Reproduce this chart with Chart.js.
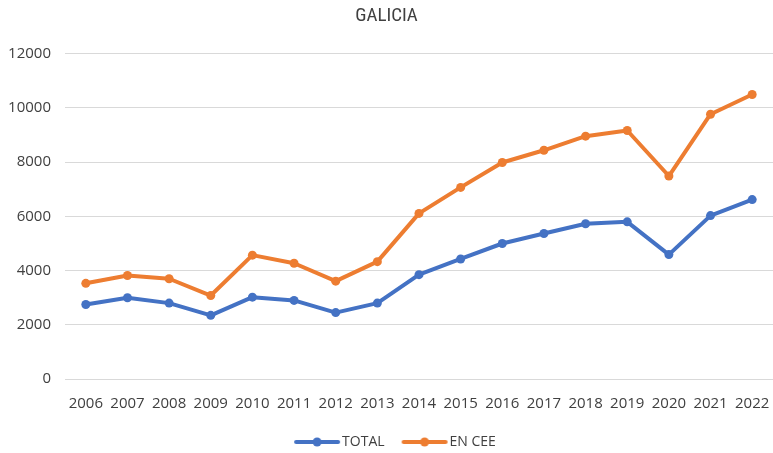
<!DOCTYPE html>
<html>
<head>
<meta charset="utf-8">
<script src="https://cdn.jsdelivr.net/npm/chart.js@4.4.0/dist/chart.umd.min.js"></script>
<style>
  html, body { margin: 0; padding: 0; background: #fff; }
  #wrap { width: 773px; height: 453px; }
</style>
</head>
<body>
<div id="wrap"><canvas id="chart"></canvas></div>
<script>
const years = ["2006", "2007", "2008", "2009", "2010", "2011", "2012", "2013", "2014",
  "2015", "2016", "2017", "2018", "2019", "2020", "2021", "2022"];
const total = [2750, 3000, 2800, 2350, 3020, 2900, 2450, 2800, 3850,
  4430, 5000, 5370, 5730, 5800, 4590, 6030, 6620];
const enCee = [3530, 3820, 3700, 3080, 4570, 4270, 3610, 4330, 6110,
  7070, 7990, 8440, 8960, 9170, 7490, 9770, 10500];
const yTicks = [0, 2000, 4000, 6000, 8000, 10000, 12000];

const blue = "#4472C4";
const orange = "#ED7D31";
const textColor = "#404040";

// legend swatch: blank margin on the left, then a short line with a dot
const BOX_W = 58;
const LEG_FONT = 14;
function swatch(color) {
  const c = document.createElement("canvas");
  c.width = BOX_W + LEG_FONT; c.height = 12;
  const g = c.getContext("2d");
  const x1 = c.width - 46, x2 = c.width - 4;
  g.strokeStyle = color; g.lineWidth = 4; g.lineCap = "round";
  g.beginPath(); g.moveTo(x1, 6); g.lineTo(x2, 6); g.stroke();
  g.fillStyle = color;
  g.beginPath(); g.arc((x1 + x2) / 2, 6, 4.5, 0, Math.PI * 2); g.fill();
  return c;
}

const ctx = document.getElementById("chart");
new Chart(ctx, {
  type: "line",
  data: {
    labels: years,
    datasets: [
      { label: "TOTAL", data: total, borderColor: blue, backgroundColor: blue },
      { label: "EN CEE", data: enCee, borderColor: orange, backgroundColor: orange },
    ],
  },
  options: {
    responsive: true,
    maintainAspectRatio: false,
    animation: false,
    layout: { padding: { left: 0, right: 0, top: 0, bottom: -6 }, autoPadding: false },
    elements: {
      line: { borderWidth: 4, tension: 0, borderCapStyle: "round", borderJoinStyle: "round" },
      point: { radius: 4.5, hoverRadius: 4.5, borderWidth: 0 },
    },
    scales: {
      x: {
        offset: true,
        grid: { display: false, drawTicks: true, tickLength: 16 },
        border: { display: false },
        ticks: { color: textColor, font: { family: "Open Sans", size: 15 }, padding: 0, maxRotation: 0, autoSkip: false },
        afterFit: (axis) => { axis.height = 56; },
      },
      y: {
        min: 0,
        max: 12000,
        afterBuildTicks: (axis) => { axis.ticks = yTicks.map(v => ({ value: v })); },
        afterFit: (axis) => { axis.width = 65; },
        grid: { color: "#d9d9d9", lineWidth: 1, drawTicks: false },
        border: { display: false },
        ticks: {
          color: textColor,
          font: { family: "Open Sans", size: 15 },
          padding: 14,
          callback: (v) => String(v),
        },
      },
    },
    plugins: {
      title: {
        display: true,
        text: "GALICIA",
        color: textColor,
        font: { family: "Liberation Sans Narrow, Roboto Condensed, Open Sans", size: 19, weight: "normal" },
        padding: { top: 5, bottom: 26 },
      },
      legend: {
        position: "bottom",
        labels: {
          color: textColor,
          font: { family: "Open Sans", size: LEG_FONT },
          usePointStyle: true,
          pointStyleWidth: BOX_W,
          padding: 0,
          generateLabels: (chart) => chart.data.datasets.map((ds, i) => ({
            text: ds.label,
            pointStyle: swatch(ds.borderColor),
            fillStyle: ds.borderColor,
            strokeStyle: ds.borderColor,
            lineWidth: 0,
            hidden: false,
            datasetIndex: i,
            fontColor: textColor,
          })),
        },
      },
      tooltip: { enabled: false },
    },
  },
});
</script>
</body>
</html>
